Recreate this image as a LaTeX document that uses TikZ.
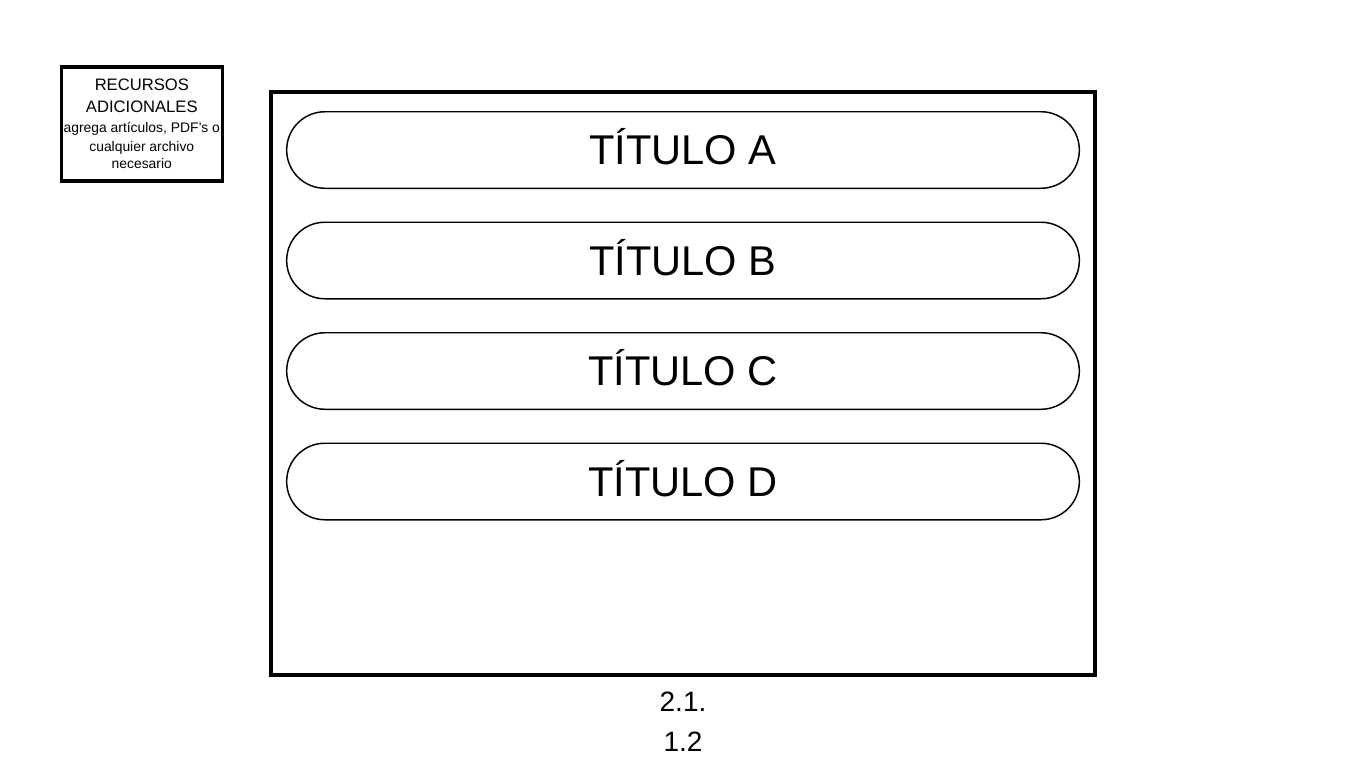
\documentclass[tikz,border=0pt]{standalone}
\usepackage{fontspec}
\setmainfont{Liberation Sans}
\usetikzlibrary{positioning}

\tikzset{
  pill/.style={draw, line width=1.1, rounded corners=28.7pt, minimum width=594.5pt, minimum height=57.4pt, inner sep=0pt, text height=22.3pt, text depth=0pt, font=\fontsize{31.2}{36}\selectfont},
  frame/.style={draw, line width=3},
  resbox/.style={draw, line width=2.6, minimum width=120.75pt, minimum height=85.5pt, inner sep=0pt, align=center, font=\fontsize{10.4}{13}\selectfont},
  pie/.style={anchor=base, font=\fontsize{21}{25}\selectfont}
}

\begin{document}
\begin{tikzpicture}[x=0.75pt,y=0.75pt,yscale=-1]
\useasboundingbox (0,0) rectangle (1366,768);

%Shape: Rectangle [id:recursos]
\node [resbox] (recursos) at (141.8,124) {%
  {\fontsize{12.45}{16}\selectfont RECURSOS}\\[3.3pt]
  {\fontsize{12.45}{16}\selectfont ADICIONALES}\\[2pt]
  agrega artículos, PDF’s o\\[1.5pt]
  cualquier archivo\\
  necesario};

%Shape: Rectangle [id:marco]
\draw [frame] (271.3,91.7) rectangle (1094.7,675);

%Shape: Rounded Rect [id:tituloA]
\node [pill] (tituloA) at (683,150) {TÍTULO A};
%Shape: Rounded Rect [id:tituloB]
\node [pill] (tituloB) at (683,260.5) {TÍTULO B};
%Shape: Rounded Rect [id:tituloC]
\node [pill] (tituloC) at (683,371) {TÍTULO C};
%Shape: Rounded Rect [id:tituloD]
\node [pill] (tituloD) at (683,481.5) {TÍTULO D};

% Text Node
\node [pie] (pieA) at (683,711.7) {2.1.};
% Text Node
\node [pie] (pieB) at (683,751) {1.2};
\end{tikzpicture}
\end{document}
